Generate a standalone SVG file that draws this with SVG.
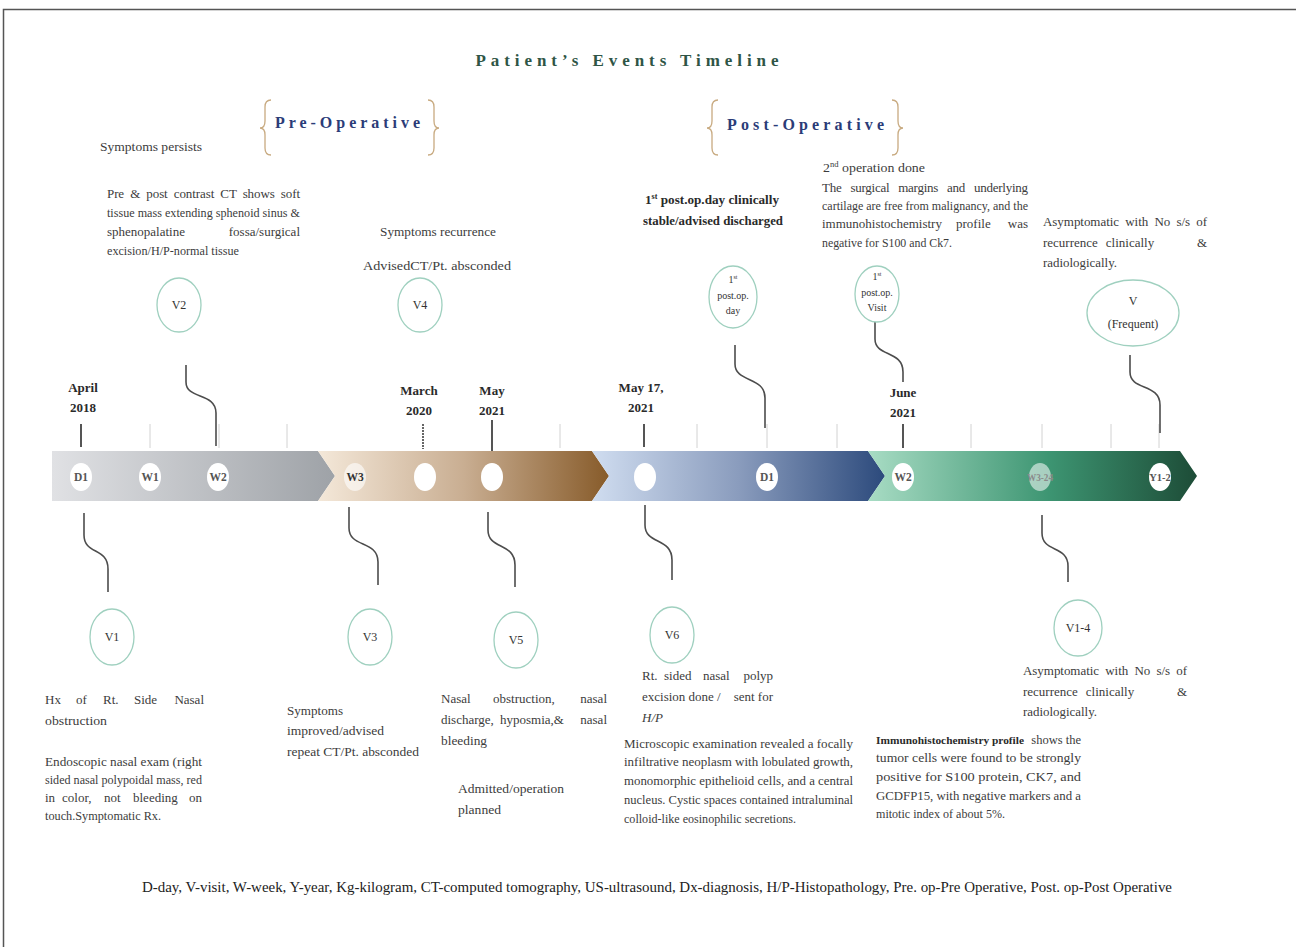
<svg xmlns="http://www.w3.org/2000/svg" width="1296" height="947" viewBox="0 0 1296 947">
<style>
.t{font-family:"Liberation Serif","Times New Roman",serif;font-size:13px;fill:#3c3c3c}
.e{text-anchor:end}
.b{font-weight:bold;fill:#2a2a2a}
.date{font-family:"Liberation Serif",serif;font-size:13px;font-weight:bold;fill:#2a2a2a;text-anchor:middle}
.node{fill:#fff;stroke:#9fd0bf;stroke-width:1.3}
.nl{font-family:"Liberation Serif",serif;font-size:12px;fill:#333;text-anchor:middle}
.dot{fill:#fff}
.dl{font-family:"Liberation Serif",serif;font-size:11.5px;font-weight:bold;fill:#555;text-anchor:middle}
.wave{fill:none;stroke:#4d4d4d;stroke-width:1.6}
.tick{stroke:#d2d2d2;stroke-width:1}
.tickd{stroke:#555;stroke-width:2}
.brace{fill:none;stroke:#c8aa80;stroke-width:1.3}
.phase{font-family:"Liberation Serif",serif;font-size:16px;font-weight:bold;fill:#2b3c78}
</style>
<defs>
<linearGradient id="g1" x1="0" x2="1" y1="0" y2="0"><stop offset="0" stop-color="#e0e1e4"/><stop offset="1" stop-color="#9ea2a7"/></linearGradient>
<linearGradient id="g2" x1="0" x2="1" y1="0" y2="0"><stop offset="0" stop-color="#f4e8d9"/><stop offset="0.5" stop-color="#c9ae92"/><stop offset="1" stop-color="#875b2a"/></linearGradient>
<linearGradient id="g3" x1="0" x2="1" y1="0" y2="0"><stop offset="0" stop-color="#d0ddf0"/><stop offset="0.5" stop-color="#8a9cbd"/><stop offset="1" stop-color="#2c4a7c"/></linearGradient>
<linearGradient id="g4" x1="0" x2="1" y1="0" y2="0"><stop offset="0" stop-color="#a8dcc4"/><stop offset="0.55" stop-color="#3d9572"/><stop offset="1" stop-color="#1d4c37"/></linearGradient>
</defs>
<rect x="0" y="0" width="1296" height="947" fill="#fff"/>
<rect x="3.5" y="9.5" width="1310" height="960" fill="none" stroke="#555" stroke-width="1.5"/>

<text x="627" y="66" text-anchor="middle" textLength="303" lengthAdjust="spacing" style="font-family:'Liberation Serif',serif;font-size:17px;font-weight:bold;fill:#2f5546">Patient’s Events Timeline</text>

<g id="pre-operative">
<path class="brace" d="M271 100 Q265 100 265 107 V121 Q265 128 260 128 Q265 128 265 135 V148 Q265 155 271 155"/>
<path class="brace" d="M428 100 Q434 100 434 107 V121 Q434 128 439 128 Q434 128 434 135 V148 Q434 155 428 155"/>
<text class="phase" x="275" y="128" textLength="145" lengthAdjust="spacing">Pre-Operative</text>
</g>
<g id="post-operative">
<path class="brace" d="M718 100 Q712 100 712 107 V121 Q712 128 707 128 Q712 128 712 135 V148 Q712 155 718 155"/>
<path class="brace" d="M892 100 Q898 100 898 107 V121 Q898 128 903 128 Q898 128 898 135 V148 Q898 155 892 155"/>
<text class="phase" x="727" y="130" textLength="157" lengthAdjust="spacing">Post-Operative</text>
</g>

<g id="timeline-bar">
<polygon points="52,451 318,451 335,476 318,501 52,501" fill="url(#g1)"/>
<polygon points="318,451 592,451 609,476 592,501 318,501 335,476" fill="url(#g2)"/>
<polygon points="592,451 868,451 885,476 868,501 592,501 609,476" fill="url(#g3)"/>
<polygon points="868,451 1180,451 1197,476 1180,501 868,501 885,476" fill="url(#g4)"/>
</g>

<g id="ticks">
<line class="tick" x1="150" y1="424" x2="150" y2="448"/>
<line class="tick" x1="219" y1="424" x2="219" y2="448"/>
<line class="tick" x1="287" y1="424" x2="287" y2="448"/>
<line class="tick" x1="560" y1="424" x2="560" y2="448"/>
<line class="tick" x1="697" y1="424" x2="697" y2="448"/>
<line class="tick" x1="767" y1="424" x2="767" y2="448"/>
<line class="tick" x1="837" y1="424" x2="837" y2="448"/>
<line class="tick" x1="971" y1="424" x2="971" y2="448"/>
<line class="tick" x1="1042" y1="424" x2="1042" y2="448"/>
<line class="tick" x1="1111" y1="424" x2="1111" y2="448"/>
<line class="tick" x1="1159" y1="424" x2="1159" y2="448"/>
<line class="tickd" x1="81" y1="424" x2="81" y2="447"/>
<line x1="423" y1="424" x2="423" y2="449" stroke="#666" stroke-width="2" stroke-dasharray="2 1"/>
<line class="tickd" x1="492" y1="420" x2="492" y2="451"/>
<line class="tickd" x1="644" y1="424" x2="644" y2="447"/>
<line class="tickd" x1="903" y1="424" x2="903" y2="448"/>
</g>

<g id="dates">
<text class="date" x="83" y="392">April</text><text class="date" x="83" y="412">2018</text>
<text class="date" x="419" y="395">March</text><text class="date" x="419" y="415">2020</text>
<text class="date" x="492" y="395">May</text><text class="date" x="492" y="415">2021</text>
<text class="date" x="641" y="392">May 17,</text><text class="date" x="641" y="412">2021</text>
<text class="date" x="903" y="397">June</text><text class="date" x="903" y="417">2021</text>
</g>

<g id="bar-markers">
<ellipse class="dot" cx="81" cy="477" rx="11" ry="14"/><text class="dl" x="81" y="481">D1</text>
<ellipse class="dot" cx="150" cy="477" rx="11" ry="14"/><text class="dl" x="150" y="481">W1</text>
<ellipse class="dot" cx="218" cy="477" rx="11" ry="14"/><text class="dl" x="218" y="481">W2</text>
<ellipse class="dot" cx="355" cy="477" rx="11" ry="14" fill-opacity="0.6"/><text class="dl" x="355" y="481" style="fill:#333">W3</text>
<ellipse class="dot" cx="425" cy="477" rx="11" ry="14"/>
<ellipse class="dot" cx="492" cy="477" rx="11" ry="14"/>
<ellipse class="dot" cx="645" cy="477" rx="11" ry="14"/>
<ellipse class="dot" cx="767" cy="477" rx="11" ry="14"/><text class="dl" x="767" y="481">D1</text>
<ellipse class="dot" cx="903" cy="477" rx="11" ry="14"/><text class="dl" x="903" y="481">W2</text>
<ellipse class="dot" cx="1040" cy="477" rx="11" ry="14" fill-opacity="0.55"/><text class="dl" x="1040" y="481" textLength="26" lengthAdjust="spacingAndGlyphs" style="fill:#8a8a8a;font-size:10px">W3-24</text>
<ellipse class="dot" cx="1160" cy="477" rx="11" ry="14"/><text class="dl" x="1160" y="481" style="font-size:10.5px">Y1-2</text>
</g>

<g id="connectors">
<path class="wave" d="M186 365 V382 C186 400 216 392 216 413 V446"/>
<path class="wave" d="M735 345 V364 C735 383 765 376 765 398 V428"/>
<path class="wave" d="M875 322 V339 C875 357 903 350 903 372 V382"/>
<path class="wave" d="M1130 355 V372 C1130 391 1160 383 1160 405 V433"/>
<path class="wave" d="M84 513 V535 C84 555 108 547 108 569 V592"/>
<path class="wave" d="M349 507 V528 C349 548 378 540 378 562 V585"/>
<path class="wave" d="M488 512 V530 C488 550 515 542 515 565 V587"/>
<path class="wave" d="M645 505 V525 C645 545 672 537 672 560 V580"/>
<path class="wave" d="M1042 515 V533 C1042 553 1068 545 1068 566 V582"/>
</g>

<g id="v2">
<ellipse class="node" cx="179" cy="305" rx="22" ry="27"/><text class="nl" x="179" y="309">V2</text>
<text class="t" x="100" y="151" textLength="102" lengthAdjust="spacingAndGlyphs">Symptoms persists</text>
<text class="t" x="107" y="198" textLength="193" lengthAdjust="spacing" word-spacing="3">Pre &amp; post contrast CT shows soft</text>
<text class="t" x="107" y="217" textLength="193" lengthAdjust="spacingAndGlyphs">tissue mass extending sphenoid sinus &amp;</text>
<text class="t" x="107" y="236">sphenopalatine</text><text class="t e" x="300" y="236">fossa/surgical</text>
<text class="t" x="107" y="255" textLength="132" lengthAdjust="spacingAndGlyphs">excision/H/P-normal tissue</text>
</g>

<g id="v4">
<ellipse class="node" cx="420" cy="305" rx="22" ry="27"/><text class="nl" x="420" y="309">V4</text>
<text class="t" x="380" y="236" textLength="116" lengthAdjust="spacingAndGlyphs">Symptoms recurrence</text>
<text class="t" x="363" y="270" textLength="148" lengthAdjust="spacingAndGlyphs">AdvisedCT/Pt. absconded</text>
</g>

<g id="post-op-day">
<ellipse class="node" cx="733" cy="297" rx="24" ry="31"/>
<text class="nl" x="733" y="283" style="font-size:10px">1<tspan font-size="6" dy="-4">st</tspan></text>
<text class="nl" x="733" y="299" style="font-size:10px">post.op.</text>
<text class="nl" x="733" y="314" style="font-size:10px">day</text>
<text class="t b" x="645" y="204" textLength="134" lengthAdjust="spacingAndGlyphs">1<tspan font-size="8" dy="-5">st</tspan><tspan dy="5"> post.op.day clinically</tspan></text>
<text class="t b" x="643" y="225" textLength="140" lengthAdjust="spacingAndGlyphs">stable/advised discharged</text>
</g>

<g id="post-op-visit">
<ellipse class="node" cx="877" cy="294" rx="22" ry="28"/>
<text class="nl" x="877" y="280" style="font-size:10px">1<tspan font-size="6" dy="-4">st</tspan></text>
<text class="nl" x="877" y="296" style="font-size:10px">post.op.</text>
<text class="nl" x="877" y="311" style="font-size:10px">Visit</text>
<text class="t" x="823" y="172" textLength="102" lengthAdjust="spacingAndGlyphs">2<tspan font-size="8" dy="-5">nd</tspan><tspan dy="5"> operation done</tspan></text>
<text class="t" x="822" y="192" textLength="206" lengthAdjust="spacing" word-spacing="6">The surgical margins and underlying</text>
<text class="t" x="822" y="210" textLength="206" lengthAdjust="spacingAndGlyphs">cartilage are free from malignancy, and the</text>
<text class="t" x="822" y="228">immunohistochemistry</text><text class="t" x="956" y="228">profile</text><text class="t e" x="1028" y="228">was</text>
<text class="t" x="822" y="247" textLength="130" lengthAdjust="spacingAndGlyphs">negative for S100 and Ck7.</text>
</g>

<g id="v-frequent">
<ellipse class="node" cx="1133" cy="313" rx="46" ry="33"/>
<text class="nl" x="1133" y="305">V</text>
<text class="nl" x="1133" y="328">(Frequent)</text>
<text class="t" x="1043" y="226" textLength="164" lengthAdjust="spacing" word-spacing="3">Asymptomatic with No s/s of</text>
<text class="t" x="1043" y="247">recurrence</text><text class="t" x="1130" y="247" text-anchor="middle">clinically</text><text class="t e" x="1207" y="247">&amp;</text>
<text class="t" x="1043" y="267" textLength="74" lengthAdjust="spacingAndGlyphs">radiologically.</text>
</g>

<g id="v1">
<ellipse class="node" cx="112" cy="637" rx="22" ry="28"/><text class="nl" x="112" y="641">V1</text>
<text class="t" x="45" y="704">Hx</text><text class="t" x="76" y="704">of</text><text class="t" x="103" y="704">Rt.</text><text class="t" x="134" y="704">Side</text><text class="t e" x="204" y="704">Nasal</text>
<text class="t" x="45" y="725" textLength="62" lengthAdjust="spacingAndGlyphs">obstruction</text>
<text class="t" x="45" y="766" textLength="157" lengthAdjust="spacingAndGlyphs">Endoscopic nasal exam (right</text>
<text class="t" x="45" y="784" textLength="157" lengthAdjust="spacingAndGlyphs">sided nasal polypoidal mass, red</text>
<text class="t" x="45" y="802">in</text><text class="t" x="62" y="802">color,</text><text class="t" x="104" y="802">not</text><text class="t" x="133" y="802">bleeding</text><text class="t e" x="202" y="802">on</text>
<text class="t" x="45" y="820" textLength="116" lengthAdjust="spacingAndGlyphs">touch.Symptomatic Rx.</text>
</g>

<g id="v3">
<ellipse class="node" cx="370" cy="637" rx="22" ry="28"/><text class="nl" x="370" y="641">V3</text>
<text class="t" x="287" y="715" textLength="56" lengthAdjust="spacingAndGlyphs">Symptoms</text>
<text class="t" x="287" y="735" textLength="97" lengthAdjust="spacingAndGlyphs">improved/advised</text>
<text class="t" x="287" y="756" textLength="132" lengthAdjust="spacingAndGlyphs">repeat CT/Pt. absconded</text>
</g>

<g id="v5">
<ellipse class="node" cx="516" cy="640" rx="22" ry="28"/><text class="nl" x="516" y="644">V5</text>
<text class="t" x="441" y="703">Nasal</text><text class="t" x="493" y="703">obstruction,</text><text class="t e" x="607" y="703">nasal</text>
<text class="t" x="441" y="724">discharge,</text><text class="t" x="500" y="724">hyposmia,&amp;</text><text class="t e" x="607" y="724">nasal</text>
<text class="t" x="441" y="745" textLength="46" lengthAdjust="spacingAndGlyphs">bleeding</text>
<text class="t" x="458" y="793" textLength="106" lengthAdjust="spacingAndGlyphs">Admitted/operation</text>
<text class="t" x="458" y="814" textLength="43" lengthAdjust="spacingAndGlyphs">planned</text>
</g>

<g id="v6">
<ellipse class="node" cx="672" cy="635" rx="22" ry="28"/><text class="nl" x="672" y="639">V6</text>
<text class="t" x="642" y="680">Rt.</text><text class="t" x="664" y="680">sided</text><text class="t" x="703" y="680">nasal</text><text class="t e" x="773" y="680">polyp</text>
<text class="t" x="642" y="701">excision done /</text><text class="t e" x="773" y="701">sent for</text>
<text class="t" x="642" y="722" font-style="italic">H/P</text>
<text class="t" x="624" y="748" textLength="229" lengthAdjust="spacingAndGlyphs">Microscopic examination revealed a focally</text>
<text class="t" x="624" y="766" textLength="229" lengthAdjust="spacingAndGlyphs">infiltrative neoplasm with lobulated growth,</text>
<text class="t" x="624" y="785" textLength="229" lengthAdjust="spacingAndGlyphs">monomorphic epithelioid cells, and a central</text>
<text class="t" x="624" y="804" textLength="229" lengthAdjust="spacingAndGlyphs">nucleus. Cystic spaces contained intraluminal</text>
<text class="t" x="624" y="823" textLength="172" lengthAdjust="spacingAndGlyphs">colloid-like eosinophilic secretions.</text>
</g>

<g id="v1-4">
<ellipse class="node" cx="1078" cy="628" rx="24" ry="28"/><text class="nl" x="1078" y="632">V1-4</text>
<text class="t" x="1023" y="675" textLength="164" lengthAdjust="spacing" word-spacing="3">Asymptomatic with No s/s of</text>
<text class="t" x="1023" y="696">recurrence</text><text class="t" x="1110" y="696" text-anchor="middle">clinically</text><text class="t e" x="1187" y="696">&amp;</text>
<text class="t" x="1023" y="716" textLength="74" lengthAdjust="spacingAndGlyphs">radiologically.</text>
<text class="t b" x="876" y="744" style="font-size:11px" textLength="148" lengthAdjust="spacingAndGlyphs">Immunohistochemistry profile</text><text class="t e" x="1081" y="744" style="font-size:12.5px">shows the</text>
<text class="t" x="876" y="762" textLength="205" lengthAdjust="spacingAndGlyphs">tumor cells were found to be strongly</text>
<text class="t" x="876" y="781" textLength="205" lengthAdjust="spacingAndGlyphs">positive for S100 protein, CK7, and</text>
<text class="t" x="876" y="800" textLength="205" lengthAdjust="spacingAndGlyphs">GCDFP15, with negative markers and a</text>
<text class="t" x="876" y="818" textLength="129" lengthAdjust="spacingAndGlyphs">mitotic index of about 5%.</text>
</g>

<g id="legend">
<text x="142" y="892" textLength="1030" lengthAdjust="spacingAndGlyphs" style="font-family:'Liberation Serif',serif;font-size:15px;fill:#222">D-day, V-visit, W-week, Y-year, Kg-kilogram, CT-computed tomography, US-ultrasound, Dx-diagnosis, H/P-Histopathology, Pre. op-Pre Operative, Post. op-Post Operative</text>
</g>
</svg>
